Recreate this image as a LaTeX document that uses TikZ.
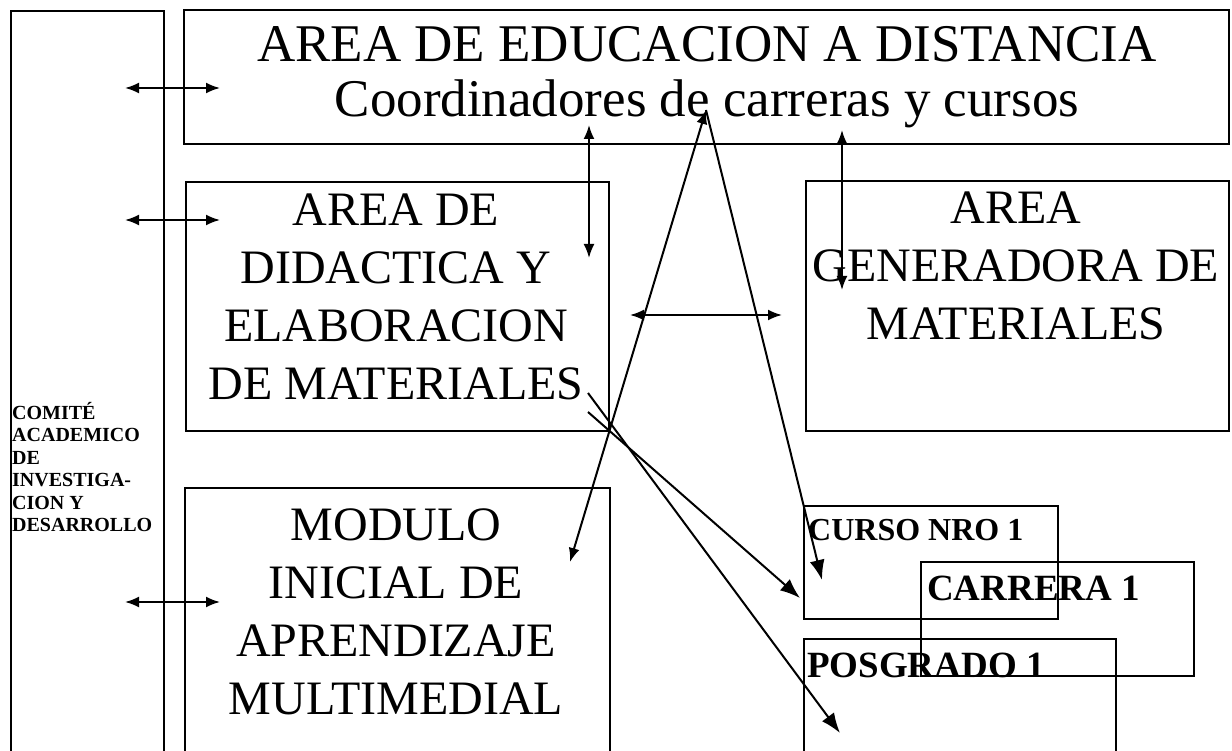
\documentclass[tikz,border=0pt]{standalone}
\usepackage{fontspec}
\setmainfont{Liberation Serif}
\usetikzlibrary{arrows.meta}

\tikzset{
	box/.style={draw, line width=2pt, inner sep=0pt},
	big/.style={inner sep=0pt, align=center, font=\fontsize{48}{58}\selectfont},
	small/.style={inner sep=0pt, align=left, font=\bfseries},
	dbl/.style={{Latex[length=14pt,width=11pt]}-{Latex[length=14pt,width=11pt]}, line width=2pt},
	one/.style={-{Latex[length=20pt,width=15pt]}, line width=2pt}
}

\begin{document}
\begin{tikzpicture}[x=1pt,y=-1pt]
	\useasboundingbox (0,0) rectangle (1232,751);
	\clip (0,0) rectangle (1232,751);
	
	% boxes
	\node [box, anchor=north west, minimum width=153, minimum height=780] (comite) at (10,10) {};
	\node [box, anchor=north west, minimum width=1045, minimum height=134] (educ) at (183,9) {};
	\node [box, anchor=north west, minimum width=423, minimum height=249] (didac) at (185,181) {};
	\node [box, anchor=north west, minimum width=423, minimum height=250] (gener) at (805,180) {};
	\node [box, anchor=north west, minimum width=425, minimum height=300] (modulo) at (184,487) {};
	\node [box, anchor=north west, minimum width=254, minimum height=113] (curso) at (803,505) {};
	\node [box, anchor=north west, minimum width=273, minimum height=114] (carrera) at (920,561) {};
	\node [box, anchor=north west, minimum width=312, minimum height=150] (posgrado) at (803,638) {};
	
	% texts
	\node [big, anchor=north, font=\fontsize{53}{55}\selectfont] (educt) at (707,26)
		{AREA DE EDUCACION A DISTANCIA\\Coordinadores de carreras y cursos};
	\node [big, anchor=north] (didact) at (396,194) {AREA DE\\DIDACTICA Y\\ELABORACION\\DE MATERIALES};
	\node [big, anchor=north] (genert) at (1016,192) {AREA\\GENERADORA DE\\MATERIALES};
	\node [big, anchor=north] (modulot) at (396,509) {MODULO\\INICIAL DE\\APRENDIZAJE\\MULTIMEDIAL};
	\node [small, anchor=north west, font=\bfseries\fontsize{20}{22.5}\selectfont] (comitet) at (12,402)
		{COMITÉ\\ACADEMICO\\DE\\INVESTIGA-\\CION Y\\DESARROLLO};
	\node [small, anchor=north west, font=\bfseries\fontsize{32}{36}\selectfont] (cursot) at (808,519) {CURSO NRO 1};
	\node [small, anchor=north west, font=\bfseries\fontsize{37}{40}\selectfont] (carrerat) at (927,576) {CARRERA 1};
	\node [small, anchor=north west, font=\bfseries\fontsize{37}{40}\selectfont] (posgradot) at (807,653) {POSGRADO 1};
	
	% arrow ends
	\foreach \y [count=\i] in {88,220,602} {
		\coordinate (cl\i) at (125,\y);
		\coordinate (cr\i) at (220,\y);
		\draw [dbl] (cl\i) -- (cr\i);
	}
	\coordinate (ed1) at (589,125);
	\coordinate (di1) at (589,258);
	\coordinate (ed2) at (842,130);
	\coordinate (ge1) at (842,290);
	\coordinate (di2) at (630,315);
	\coordinate (ge2) at (782,315);
	\coordinate (apex) at (706,110);
	\coordinate (mo1) at (570,562);
	\coordinate (cu1) at (822,580);
	\coordinate (di3) at (588,393);
	\coordinate (po1) at (840,733);
	\coordinate (di4) at (588,412);
	\coordinate (cu2) at (800,598);
	
	\draw [dbl] (ed1) -- (di1);
	\draw [dbl] (ed2) -- (ge1);
	\draw [dbl] (di2) -- (ge2);
	\draw [dbl] (mo1) -- (apex);
	\draw [one] (apex) -- (cu1);
	\draw [one] (di3) -- (po1);
	\draw [one] (di4) -- (cu2);
\end{tikzpicture}
\end{document}
